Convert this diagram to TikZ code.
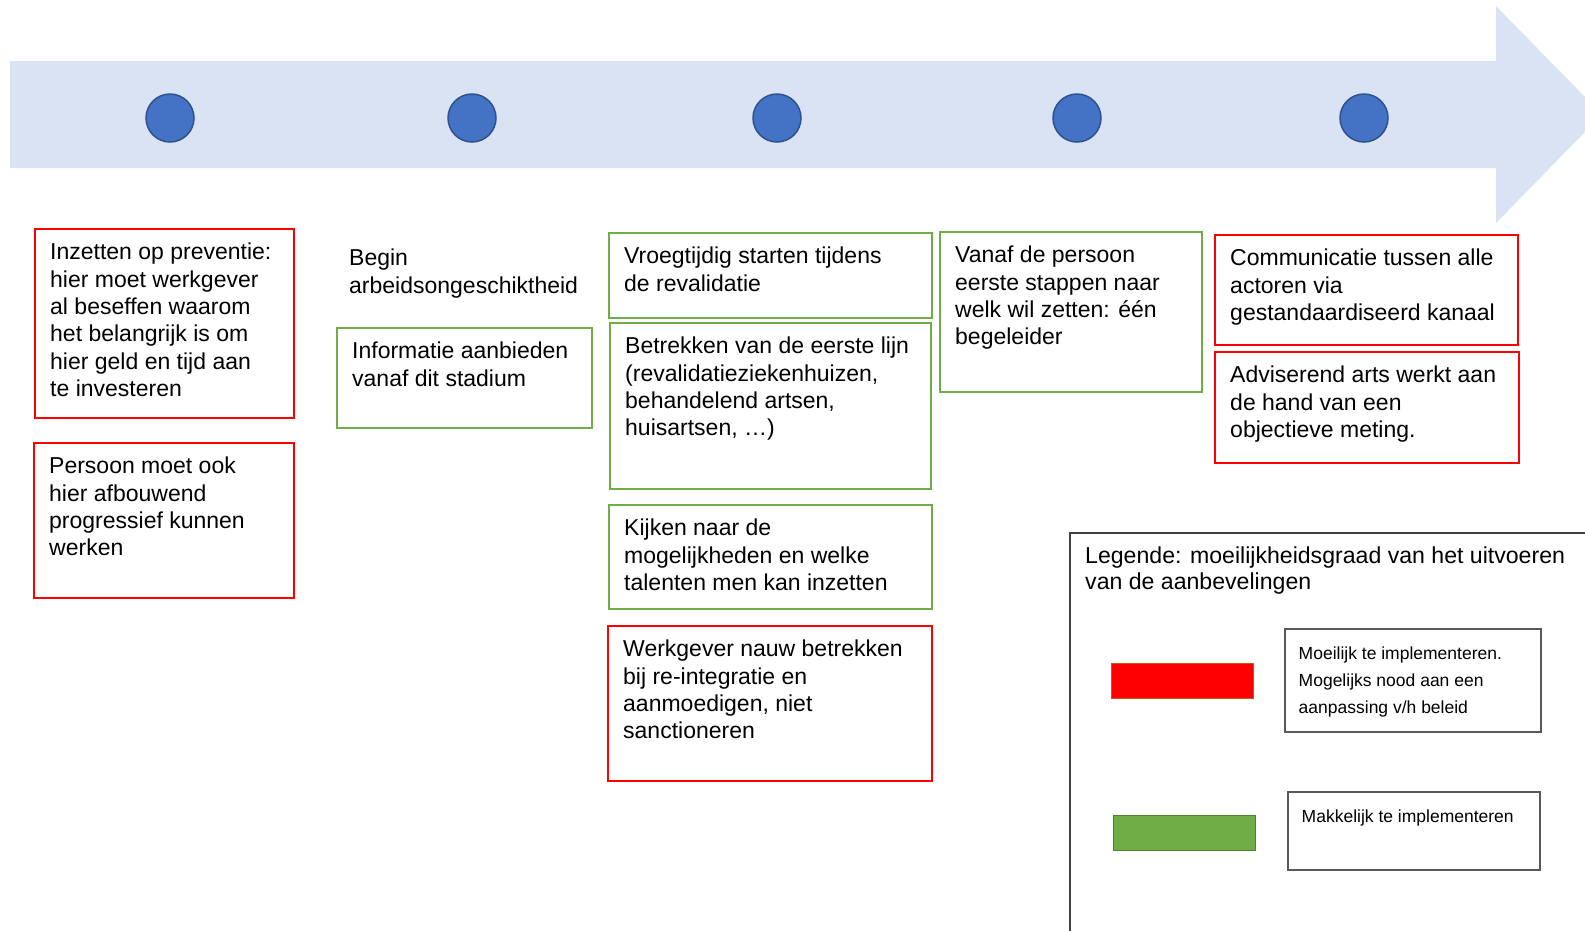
\documentclass[tikz,border=0pt]{standalone}
\usepackage{fontspec}
\setmainfont{Liberation Sans}
\definecolor{bandblue}{HTML}{DAE3F3}
\definecolor{dotblue}{HTML}{4472C4}
\definecolor{dotedge}{HTML}{2F528F}
\definecolor{hardred}{HTML}{FF0000}
\definecolor{easygreen}{HTML}{70AD47}
\definecolor{greenedge}{HTML}{507E32}
\definecolor{rededge}{HTML}{C55A11}
\newcommand{\bodyfont}{\fontsize{23}{27.3}\selectfont}
\newcommand{\legendfont}{\fontsize{23.1}{25.5}\selectfont}
\newcommand{\keyfont}{\fontsize{17.5}{27}\selectfont}
\tikzset{hard/.style = {rectangle, draw=hardred, line width=2pt, anchor=north west},
  easy/.style = {rectangle, draw=easygreen, line width=2pt, anchor=north west},
  txt/.style = {anchor=north west, align=left, inner sep=0pt, xshift=16pt,
    yshift=-15pt, font=\bodyfont},
  keytxt/.style = {anchor=north west, align=left, inner sep=0pt, xshift=14.5pt,
    yshift=-18.5pt, font=\keyfont},
  keybox/.style = {rectangle, draw=black!65, line width=1.5pt, anchor=north west},
  swatch/.style = {rectangle, line width=1pt, anchor=north west,
    minimum width=142pt, minimum height=35pt},
  dot/.style = {circle, fill=dotblue, draw=dotedge, line width=1.5pt,
    minimum size=48pt, inner sep=0pt}}

\begin{document}
\begin{tikzpicture}[x=1pt, y=-1pt]
  \clip (0,0) rectangle (1585,930);
  \fill[white] (0,0) rectangle (1585,930);

  % timeline arrow
  \fill[bandblue] (10,61) -- (1496,61) -- (1496,6) -- (1602,114.5)
    -- (1496,223) -- (1496,168) -- (10,168) -- cycle;
  \foreach \x [count=\i] in {170,472,777,1077,1364}
    \node[dot] (dot\i) at (\x,118) {};

  % stage 1
  \node[hard, minimum width=259pt, minimum height=189pt] (prevent) at (34,228) {};
  \node[txt] (preventTxt) at (prevent.north west) {Inzetten op preventie:\\hier moet werkgever\\al beseffen waarom\\het belangrijk is om\\hier geld en tijd aan\\te investeren};
  \node[hard, minimum width=260pt, minimum height=155pt] (phase) at (33,442) {};
  \node[txt] (phaseTxt) at (phase.north west) {Persoon moet ook\\hier afbouwend\\progressief kunnen\\werken};

  % stage 2
  \node[txt] (startTxt) at (333,234) {Begin\\arbeidsongeschiktheid};
  \node[easy, minimum width=255pt, minimum height=100pt] (inform) at (336,327) {};
  \node[txt] (informTxt) at (inform.north west) {Informatie aanbieden\\vanaf dit stadium};

  % stage 3
  \node[easy, minimum width=323pt, minimum height=85pt] (early) at (608,232) {};
  \node[txt] (earlyTxt) at (early.north west) {Vroegtijdig starten tijdens\\de revalidatie};
  \node[easy, minimum width=321pt, minimum height=166pt] (firstline) at (609,322) {};
  \node[txt] (firstlineTxt) at (firstline.north west) {Betrekken van de eerste lijn\\(revalidatieziekenhuizen,\\behandelend artsen,\\huisartsen, …)};
  \node[easy, minimum width=323pt, minimum height=104pt] (talent) at (608,504) {};
  \node[txt] (talentTxt) at (talent.north west) {Kijken naar de\\mogelijkheden en welke\\talenten men kan inzetten};
  \node[hard, minimum width=324pt, minimum height=155pt] (employer) at (607,625) {};
  \node[txt] (employerTxt) at (employer.north west) {Werkgever nauw betrekken\\bij re-integratie en\\aanmoedigen, niet\\sanctioneren};

  % stage 4
  \node[easy, minimum width=262pt, minimum height=160pt] (guide) at (939,231) {};
  \node[txt] (guideTxt) at (guide.north west) {Vanaf de persoon\\eerste stappen naar\\welk wil zetten: één\\begeleider};

  % stage 5
  \node[hard, minimum width=303pt, minimum height=110pt] (channel) at (1214,234) {};
  \node[txt] (channelTxt) at (channel.north west) {Communicatie tussen alle\\actoren via\\gestandaardiseerd kanaal};
  \node[hard, minimum width=304pt, minimum height=111pt] (advisor) at (1214,351) {};
  \node[txt] (advisorTxt) at (advisor.north west) {Adviserend arts werkt aan\\de hand van een\\objectieve meting.};

  % legend
  \node[rectangle, draw=black!75, line width=1.5pt, anchor=north west,
    minimum width=600pt, minimum height=500pt] (legend) at (1069,532) {};
  \node[txt, font=\legendfont] (legendTxt) at (legend.north west) {Legende: moeilijkheidsgraad van het uitvoeren\\van de aanbevelingen};
  \node[swatch, fill=hardred, draw=rededge] (redKey) at (1111,663) {};
  \node[keybox, minimum width=256pt, minimum height=103pt] (hardKey) at (1284,628) {};
  \node[keytxt] (hardKeyTxt) at (hardKey.north west) {Moeilijk te implementeren.\\Mogelijks nood aan een\\aanpassing v/h beleid};
  \node[swatch, fill=easygreen, draw=greenedge] (greenKey) at (1113,815) {};
  \node[keybox, minimum width=252pt, minimum height=78pt] (easyKey) at (1287,791) {};
  \node[keytxt] (easyKeyTxt) at (easyKey.north west) {Makkelijk te implementeren};
\end{tikzpicture}
\end{document}
